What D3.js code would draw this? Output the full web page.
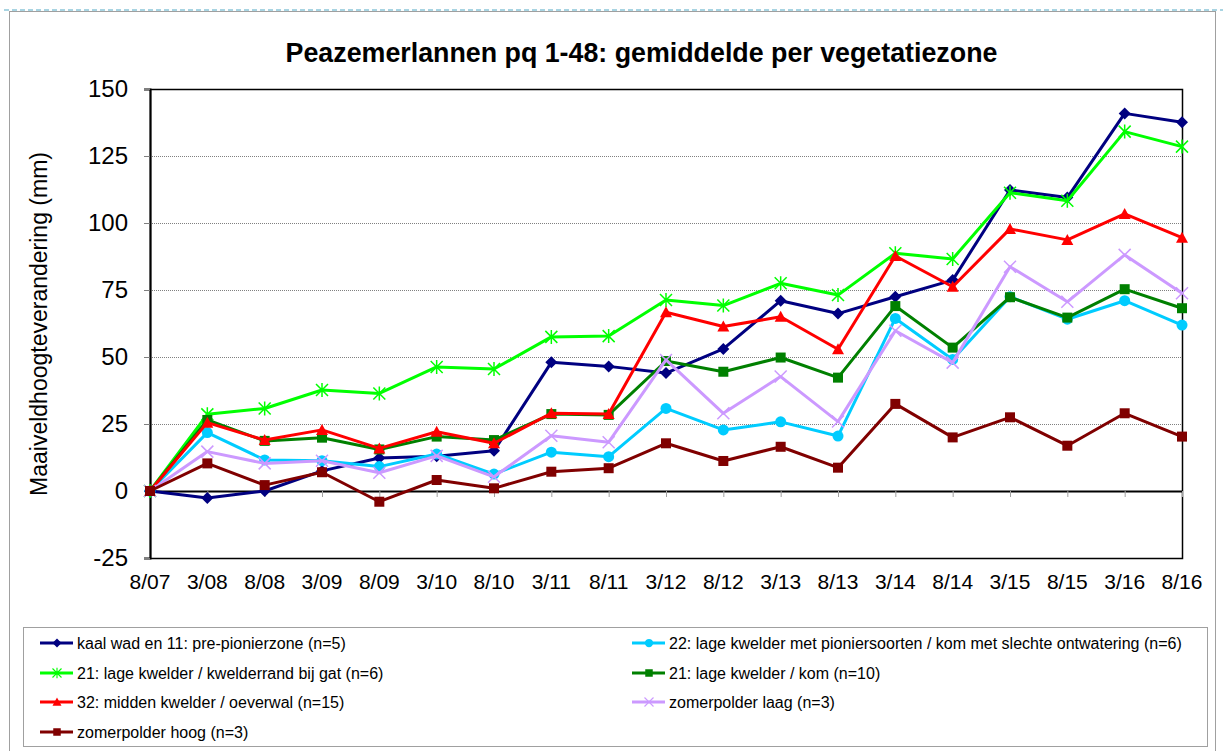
<!DOCTYPE html>
<html>
<head>
<meta charset="utf-8">
<script src="https://cdn.jsdelivr.net/npm/d3@7"></script>
<style>
  body { margin: 0; background: #fff; }
  svg { display: block; font-family: "Liberation Sans", Arial, sans-serif; }
</style>
</head>
<body>
<div id="chart"></div>
<script>
// data
var categories = ["8/07","3/08","8/08","3/09","8/09","3/10","8/10","3/11","8/11","3/12",
                  "8/12","3/13","8/13","3/14","8/14","3/15","8/15","3/16","8/16"];
var yTicks = [-25, 0, 25, 50, 75, 100, 125, 150];

var kaalWad    = [0,-2.6,0,7.5,12.3,13,15,48,46.5,44,53,71,66.2,72.5,78.7,112.3,109.5,140.9,137.6];
var lageKom22  = [0,21.8,11.6,11.3,9.1,13.8,6.3,14.5,12.8,30.8,22.8,25.8,20.5,64.4,49.1,72.5,64.1,71,61.9];
var kwelderrand= [0,28.6,30.8,37.7,36.4,46.3,45.5,57.5,57.8,71.3,69.2,77.5,73.1,88.7,86.6,111.3,108.3,134.1,128.5];
var lageKom21  = [0,26.5,18.7,19.9,15.5,20.3,19,28.7,28.4,48.5,44.5,49.8,42.3,69,53.5,72.3,64.7,75.3,68.2];
var midden     = [0,25.5,19,22.8,15.9,22.1,17.8,29,28.7,66.7,61.4,65,52.9,87.7,76.2,97.8,93.7,103.4,94.5];
var zpLaag     = [0,14.7,10.3,11.3,6.8,13.1,5.3,20.6,18.2,48.9,29,42.7,25.9,59.8,47.9,83.7,70.6,88.1,73.8];
var zpHoog     = [0,10.3,2.2,7,-4,4.1,1,7.2,8.5,17.8,11.2,16.5,8.7,32.5,20,27.5,16.9,29,20.3];

var series = [
  {name:"kaal wad en 11: pre-pionierzone (n=5)", values:kaalWad, color:"#000080", marker:"diamond"},
  {name:"22: lage kwelder met pioniersoorten / kom met slechte ontwatering (n=6)", values:lageKom22, color:"#00CCFF", marker:"circle"},
  {name:"21: lage kwelder / kwelderrand bij gat (n=6)", values:kwelderrand, color:"#00FF00", marker:"star"},
  {name:"21: lage kwelder / kom (n=10)", values:lageKom21, color:"#008000", marker:"square"},
  {name:"32: midden kwelder / oeverwal (n=15)", values:midden, color:"#FF0000", marker:"triangle"},
  {name:"zomerpolder laag (n=3)", values:zpLaag, color:"#CC99FF", marker:"x"},
  {name:"zomerpolder hoog (n=3)", values:zpHoog, color:"#800000", marker:"square"}
];

var W = 1223, H = 751;
var plot = {left:150, right:1182, top:89, bottom:558};

var svg = d3.select("#chart").append("svg")
    .attr("width", W).attr("height", H);

// outer frame
svg.append("rect")
    .attr("x", 9.5).attr("y", 11.5).attr("width", 1206).attr("height", 760)
    .attr("fill", "none").attr("stroke", "#a0a0a0");
svg.append("line")
    .attr("x1", 4).attr("x2", W).attr("y1", 10).attr("y2", 10)
    .attr("stroke", "#a8d4e2").attr("stroke-width", 2).attr("stroke-dasharray", "5,3");

var x = d3.scalePoint().domain(categories).range([plot.left, plot.right]);
var y = d3.scaleLinear().domain([-25, 150]).range([plot.bottom, plot.top]);

// gridlines
svg.append("g").selectAll("line")
    .data(yTicks.filter(function(d){ return d > 0 && d < 150; }))
    .enter().append("line")
    .attr("x1", plot.left).attr("x2", plot.right)
    .attr("y1", function(d){ return Math.round(y(d)) + 0.5; })
    .attr("y2", function(d){ return Math.round(y(d)) + 0.5; })
    .attr("stroke", "#808080").attr("stroke-dasharray", "1,1");

// plot frame
svg.append("rect")
    .attr("x", plot.left + 0.5).attr("y", plot.top + 0.5)
    .attr("width", plot.right - plot.left).attr("height", plot.bottom - plot.top)
    .attr("fill", "none").attr("stroke", "#000").attr("stroke-width", 1.5);

// y axis (plain hyphen for negatives, like the original)
var yAxis = d3.axisLeft(y).tickValues(yTicks).tickSize(6).tickPadding(16)
    .tickFormat(function(d){ return String(d); });
var gy = svg.append("g")
    .attr("transform", "translate(" + plot.left + ",0)")
    .call(yAxis);
gy.select(".domain").attr("stroke", "#000").attr("stroke-width", 2);
gy.selectAll(".tick line").attr("stroke", "#808080");
gy.selectAll("text").attr("font-size", 24).attr("fill", "#000")
    .attr("font-family", "Liberation Sans, Arial, sans-serif");

// x axis along zero line
var xAxis = d3.axisBottom(x).tickSize(6).tickSizeOuter(0).tickFormat(function(){ return ""; });
var gx = svg.append("g")
    .attr("transform", "translate(0," + y(0) + ")")
    .call(xAxis);
gx.select(".domain").attr("stroke", "#000").attr("stroke-width", 2);
gx.selectAll(".tick line").attr("stroke", "#a0a0a0");

// category labels below the plot
svg.append("g").selectAll("text")
    .data(categories).enter().append("text")
    .attr("x", function(d){ return x(d); })
    .attr("y", 589)
    .attr("text-anchor", "middle")
    .attr("font-size", 21)
    .text(function(d){ return d; });

// title
svg.append("text")
    .attr("x", 641.5).attr("y", 62)
    .attr("text-anchor", "middle")
    .attr("font-size", 26.8).attr("font-weight", "bold")
    .text("Peazemerlannen pq 1-48: gemiddelde per vegetatiezone");

// y label
svg.append("text")
    .attr("transform", "translate(47,324) rotate(-90)")
    .attr("text-anchor", "middle")
    .attr("font-size", 23)
    .text("Maaiveldhoogteverandering (mm)");

function drawMarker(g, type, color, size) {
  var s = size || 1;
  if (type === "diamond") {
    g.append("path").attr("d", "M0,-6L6,0L0,6L-6,0Z").attr("fill", color).attr("transform", "scale(" + s + ")");
  } else if (type === "circle") {
    g.append("circle").attr("r", 5.5 * s).attr("fill", color);
  } else if (type === "square") {
    g.append("rect").attr("x", -5 * s).attr("y", -5 * s).attr("width", 10 * s).attr("height", 10 * s).attr("fill", color);
  } else if (type === "triangle") {
    g.append("path").attr("d", "M0,-6L6,5L-6,5Z").attr("fill", color).attr("transform", "scale(" + s + ")");
  } else if (type === "star") {
    g.append("path").attr("d", "M-6,-6L6,6M-6,6L6,-6M0,-7L0,7")
        .attr("stroke", color).attr("stroke-width", 1.5).attr("fill", "none").attr("transform", "scale(" + s + ")");
  } else if (type === "x") {
    g.append("path").attr("d", "M-6,-6L6,6M-6,6L6,-6")
        .attr("stroke", color).attr("stroke-width", 1.5).attr("fill", "none").attr("transform", "scale(" + s + ")");
  }
}

var line = d3.line()
    .x(function(d, i){ return x(categories[i]); })
    .y(function(d){ return y(d); });

series.forEach(function(s) {
  var g = svg.append("g");
  g.append("path")
      .datum(s.values)
      .attr("d", line)
      .attr("fill", "none")
      .attr("stroke", s.color)
      .attr("stroke-width", 3)
      .attr("stroke-linejoin", "round");
  s.values.forEach(function(v, i) {
    var m = g.append("g").attr("transform", "translate(" + x(categories[i]) + "," + y(v) + ")");
    drawMarker(m, s.marker, s.color, 1);
  });
});

// legend
svg.append("rect")
    .attr("x", 23.5).attr("y", 627.5).attr("width", 1184).attr("height", 119)
    .attr("fill", "#fff").attr("stroke", "#a0a0a0");

var legendPos = [
  [40, 643], [632, 643],
  [40, 673], [632, 673],
  [40, 702], [632, 702],
  [40, 732]
];
series.forEach(function(s, i) {
  var p = legendPos[i];
  var g = svg.append("g").attr("transform", "translate(" + p[0] + "," + p[1] + ")");
  g.append("line").attr("x1", 0).attr("x2", 33).attr("y1", 0).attr("y2", 0)
      .attr("stroke", s.color).attr("stroke-width", 3);
  var m = g.append("g").attr("transform", "translate(17,0)");
  drawMarker(m, s.marker, s.color, 0.75);
  g.append("text").attr("x", 37).attr("y", 6)
      .attr("font-size", 16)
      .text(s.name);
});
</script>
</body>
</html>
